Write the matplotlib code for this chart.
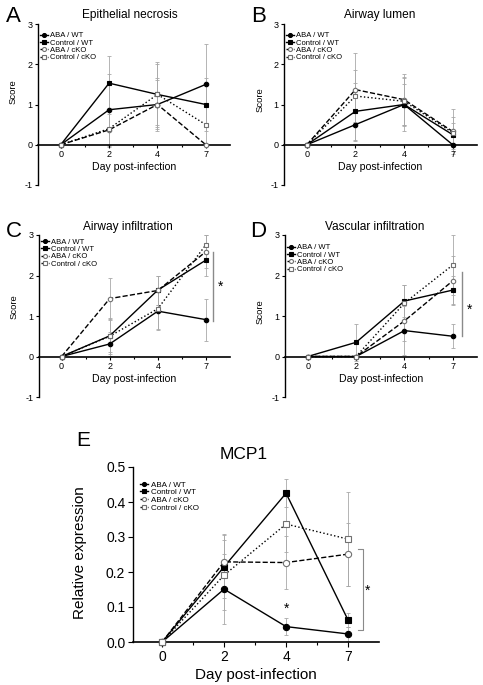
import numpy as np
import matplotlib.pyplot as plt

plt.rcParams['font.family'] = ['Liberation Sans', 'DejaVu Sans']
plt.rcParams['axes.unicode_minus'] = False

days = ["0", "2", "4", "7"]
groups = ["ABA / WT", "Control / WT", "ABA / cKO", "Control / cKO"]

# rows follow `groups`, columns follow `days`
necrosis_mean = [[0, 0.87, 1.00, 1.50],
                 [0, 1.53, 1.25, 1.00],
                 [0, 0.37, 1.00, 0.00],
                 [0, 0.40, 1.25, 0.50]]
necrosis_err = [[0, 0.88, 0.65, 1.00],
                [0, 0.67, 0.75, 0.65],
                [0, 0.40, 0.60, 0.00],
                [0, 0.45, 0.80, 0.50]]

lumen_mean = [[0, 0.50, 1.00, 0.00],
              [0, 0.83, 1.00, 0.25],
              [0, 1.37, 1.12, 0.33],
              [0, 1.21, 1.08, 0.30]]
lumen_err = [[0, 0.40, 0.50, 0.00],
             [0, 0.70, 0.67, 0.30],
             [0, 0.90, 0.65, 0.57],
             [0, 0.65, 0.60, 0.40]]

airway_mean = [[0, 0.31, 1.12, 0.91],
               [0, 0.51, 1.64, 2.38],
               [0, 1.43, 1.63, 2.59],
               [0, 0.50, 1.18, 2.76]]
airway_err = [[0, 0.30, 0.47, 0.52],
              [0, 0.40, 0.36, 0.40],
              [0, 0.50, 0.35, 0.41],
              [0, 0.45, 0.50, 0.24]]

vascular_mean = [[0, 0.00, 0.64, 0.50],
                 [0, 0.35, 1.37, 1.64],
                 [0, 0.00, 0.88, 1.87],
                 [0, 0.00, 1.32, 2.26]]
vascular_err = [[0, 0.00, 0.60, 0.30],
                [0, 0.45, 0.40, 0.35],
                [0, 0.00, 0.50, 0.60],
                [0, 0.00, 0.45, 0.75]]

mcp1_mean = [[0, 0.151, 0.044, 0.023],
             [0, 0.215, 0.425, 0.063],
             [0, 0.229, 0.227, 0.251],
             [0, 0.191, 0.337, 0.294]]
mcp1_err = [[0, 0.100, 0.025, 0.020],
            [0, 0.090, 0.040, 0.020],
            [0, 0.080, 0.075, 0.090],
            [0, 0.100, 0.080, 0.135]]

# line style / marker per group
styles = [dict(ls='-', marker='o', mfc='black', mec='black'),
          dict(ls='-', marker='s', mfc='black', mec='black'),
          dict(ls='--', marker='o', mfc='white', mec='#707070'),
          dict(ls=':', marker='s', mfc='white', mec='#707070')]

W, H = 483, 685
fig = plt.figure(figsize=(W / 100, H / 100), dpi=100)


def px_axes(left, top, right, bottom):
    # axes from pixel box of the reference
    return fig.add_axes([left / W, 1 - bottom / H, (right - left) / W, (bottom - top) / H])


def draw_panel(ax, means, errs, ylim, yticks, ms, fs_tick, fs_xlab, fs_ylab, fs_leg,
               leg_anchor, ylab, ylab_xy, leg_scale=0.9):
    x = np.arange(len(days))
    for m, e in zip(means, errs):
        ax.errorbar(x, m, yerr=e, fmt='none', ecolor='#a8a8a8', elinewidth=0.6,
                    capsize=1.5, capthick=0.6, zorder=1)
    for m, st, lab in zip(means, styles, groups):
        ax.plot(x, m, color='black', lw=1.0, ls=st['ls'], marker=st['marker'], ms=ms,
                mfc=st['mfc'], mec=st['mec'], mew=0.8, label=lab, zorder=3, clip_on=False)
    ax.set_xlim(-0.47, 3.5)
    ax.set_ylim(*ylim)
    for s in ['top', 'right']:
        ax.spines[s].set_visible(False)
    ax.spines['bottom'].set_position(('data', 0))
    ax.spines['left'].set_linewidth(1.0)
    ax.spines['bottom'].set_linewidth(1.2)
    ax.set_xticks(x, days)
    ax.set_xticks([0.5, 1.5, 2.5], minor=True)
    ax.set_yticks(yticks)
    ax.tick_params(which='major', length=2.5, width=0.8, labelsize=fs_tick, pad=1.5)
    ax.tick_params(which='minor', length=1.5, width=0.8)
    ax.set_xlabel('Day post-infection', fontsize=fs_xlab, labelpad=2)
    ax.set_ylabel(ylab, fontsize=fs_ylab)
    ax.yaxis.set_label_coords(*ylab_xy)
    ax.legend(loc='upper left', bbox_to_anchor=leg_anchor, frameon=False, fontsize=fs_leg,
              handlelength=1.0, handletextpad=0.3, labelspacing=0.0, borderpad=0,
              borderaxespad=0, markerscale=leg_scale)


score_ticks = [-1, 0, 1, 2, 3]

axA = px_axes(38, 24, 230, 185)
draw_panel(axA, necrosis_mean, necrosis_err, (-1, 3), score_ticks, 3.2, 6.5, 7.6, 6.8, 5.5,
           (0.01, 0.95), 'Score', (-0.105, 0.58))
axA.text(0.48, 1.056, 'Epithelial necrosis', transform=axA.transAxes, ha='center', va='center', fontsize=8.6)

axB = px_axes(284, 24, 477, 185)
draw_panel(axB, lumen_mean, lumen_err, (-1, 3), score_ticks, 3.2, 6.5, 7.6, 6.8, 5.5,
           (0.01, 0.95), 'Score', (-0.1, 0.53))
axB.text(0.497, 1.056, 'Airway lumen', transform=axB.transAxes, ha='center', va='center', fontsize=8.6)

axC = px_axes(39, 235, 230, 397)
draw_panel(axC, airway_mean, airway_err, (-1, 3), score_ticks, 3.2, 6.5, 7.6, 6.8, 5.5,
           (0.01, 0.98), 'Score', (-0.105, 0.556))
axC.text(0.463, 1.049, 'Airway infiltration', transform=axC.transAxes, ha='center', va='center', fontsize=8.6)
axC.plot([3.15, 3.15], [0.87, 2.57], color='#8a8a8a', lw=1.0)
axC.text(3.3, 1.72, '*', ha='center', va='center', fontsize=10)

axD = px_axes(285, 235, 477, 397)
draw_panel(axD, vascular_mean, vascular_err, (-1, 3), score_ticks, 3.2, 6.5, 7.6, 6.8, 5.5,
           (0.01, 0.945), 'Score', (-0.104, 0.525))
axD.text(0.469, 1.049, 'Vascular infiltration', transform=axD.transAxes, ha='center', va='center', fontsize=8.6)
axD.plot([3.18, 3.18], [0.5, 2.08], color='#8a8a8a', lw=1.0)
axD.text(3.34, 1.15, '*', ha='center', va='center', fontsize=10)

axE = px_axes(133, 467, 379, 642)
draw_panel(axE, mcp1_mean, mcp1_err, (0, 0.5), [0, 0.1, 0.2, 0.3, 0.4, 0.5], 4.5, 10, 11, 11, 5.8,
           (0.03, 0.92), 'Relative expression', (-0.187, 0.51), leg_scale=0.65)
axE.yaxis.set_major_formatter(plt.FormatStrFormatter('%.1f'))
axE.tick_params(which='major', length=3.5, pad=2)
axE.tick_params(which='minor', length=2.5)
axE.xaxis.labelpad = 3
axE.text(0.45, 1.069, 'MCP1', transform=axE.transAxes, ha='center', va='center', fontsize=12.5)
axE.plot([3.16, 3.24, 3.24, 3.16], [0.265, 0.265, 0.034, 0.034], color='#8a8a8a', lw=0.8)
axE.text(3.32, 0.145, '*', ha='center', va='center', fontsize=10)
axE.text(2.0, 0.095, '*', ha='center', va='center', fontsize=10)

for letter, lx, ly, fs in [('A', 6, 6, 16), ('B', 251, 6, 16), ('C', 6, 221, 16),
                           ('D', 250, 221, 16), ('E', 76, 431, 15)]:
    fig.text(lx / W, 1 - ly / H, letter, ha='left', va='top', fontsize=fs)

fig.savefig('out.png', dpi=100)
